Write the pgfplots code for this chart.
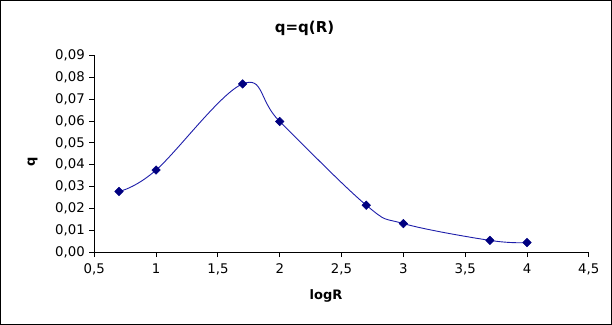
\documentclass[border=0pt]{standalone}
\usepackage{fontspec}
\setmainfont{DejaVu Sans}
\usepackage{pgfplots}
\pgfplotsset{compat=1.18}
\definecolor{navy}{RGB}{0,0,128}
\definecolor{curve}{RGB}{30,30,170}
\begin{document}
\begin{tikzpicture}
\begin{axis}[
  scale only axis,
  width=494.5pt, height=196.7pt,
  xmin=0.5, xmax=4.5, ymin=0, ymax=0.09,
  enlargelimits=false,
  axis lines=left,
  axis line style={-, line width=0.9pt},
  xtick={0.5,1,1.5,2,2.5,3,3.5,4,4.5},
  ytick={0,0.01,0.02,0.03,0.04,0.05,0.06,0.07,0.08,0.09},
  tick align=outside,
  major tick length=5pt,
  tick style={black, line width=0.9pt},
  every tick label/.append style={font=\fontsize{13.3}{15}\selectfont},
  /pgf/number format/assume math mode=true,
  x tick label style={/pgf/number format/use comma, /pgf/number format/fixed, yshift=-3pt},
  y tick label style={/pgf/number format/use comma, /pgf/number format/fixed, /pgf/number format/fixed zerofill, /pgf/number format/precision=2, xshift=-1pt},
  scaled y ticks=false,
  title={\bfseries q=q(R)},
  title style={font=\fontsize{15}{17}\selectfont\bfseries, yshift=10pt, xshift=-37pt},
  xlabel={\bfseries logR},
  ylabel={\bfseries q},
  xlabel style={font=\fontsize{13}{15}\selectfont, yshift=-8pt, xshift=-15.5pt},
  ylabel style={font=\fontsize{13}{15}\selectfont, at={(rel axis cs:0,0.46)}, anchor=center, yshift=61.6pt},
  clip=false,
]
\addplot[color=curve, line width=0.9pt, smooth, tension=0.62,
  mark=square*, mark size=3pt,
  mark options={fill=navy, draw=navy, line width=0.5pt, rotate=45}]
  coordinates {
  (0.7,0.0278) (1,0.0376) (1.7,0.0770) (2,0.0598)
  (2.7,0.0215) (3,0.0131) (3.7,0.0054) (4,0.0044)
  };
\coordinate (ll) at (rel axis cs:0,0);
\coordinate (ur) at (rel axis cs:1,1);
\end{axis}
\draw[line width=1pt] ([shift={(-93.8pt,-72.3pt)}]ll) rectangle ([shift={(22.7pt,55pt)}]ur);
\end{tikzpicture}
\end{document}
